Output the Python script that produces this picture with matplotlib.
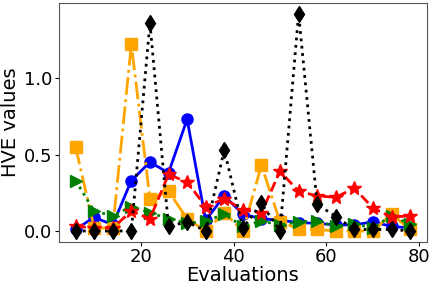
import numpy as np
import matplotlib
matplotlib.use("Agg")
import matplotlib.pyplot as plt

# evaluations
evals = [6, 10, 14, 18, 22, 26, 30, 34, 38, 42, 46, 50, 54, 58, 62, 66, 70, 74, 78]

# HVE values per method
hve_blue = [0.01, 0.09, 0.04, 0.33, 0.45, 0.38, 0.73, 0.07, 0.23, 0.11,
            0.08, 0.07, 0.055, 0.05, 0.04, 0.04, 0.06, 0.03, 0.02]
hve_orange = [0.55, 0.02, 0.02, 1.22, 0.21, 0.26, 0.08, 0.0, 0.12, 0.0,
              0.43, 0.06, 0.015, 0.01, 0.0, 0.0, 0.0, 0.11, 0.01]
hve_green = [0.33, 0.13, 0.10, 0.16, 0.12, 0.08, 0.05, 0.065, 0.11, 0.03,
             0.065, 0.04, 0.06, 0.065, 0.03, 0.045, 0.02, 0.10, 0.045]
hve_red = [0.03, 0.02, 0.02, 0.13, 0.08, 0.37, 0.32, 0.16, 0.21, 0.14,
           0.12, 0.39, 0.26, 0.23, 0.22, 0.28, 0.15, 0.09, 0.10]
hve_black = [0.0, 0.0, 0.0, 0.0, 1.36, 0.03, 0.06, 0.0, 0.53, 0.02,
             0.18, 0.0, 1.42, 0.175, 0.094, 0.01, 0.01, 0.01, 0.0]

fig = plt.figure(figsize=(4.36, 2.90), dpi=100)
ax = fig.add_axes([0.135, 0.166, 0.844, 0.824])

ax.plot(evals, hve_blue, color="blue", linestyle="-", marker="o", lw=2, ms=8)
ax.plot(evals, hve_orange, color="orange", linestyle="-.", marker="s", lw=2, ms=8)
ax.plot(evals, hve_green, color="green", linestyle=":", marker=">", lw=2, ms=8)
ax.plot(evals, hve_red, color="red", linestyle="--", marker="*", lw=2, ms=10)
ax.plot(evals, hve_black, color="black", linestyle=":", marker="d", lw=2, ms=8)

ax.set_xticks([20, 40, 60, 80])
ax.set_yticks([0.0, 0.5, 1.0])
ax.tick_params(labelsize=13, length=3, pad=1.5)
ax.set_xlabel("Evaluations", fontsize=14, labelpad=0)
ax.set_ylabel("HVE values", fontsize=14, labelpad=3)
for s in ax.spines.values():
    s.set_color("#555555")

fig.savefig("out.png", dpi=100)
